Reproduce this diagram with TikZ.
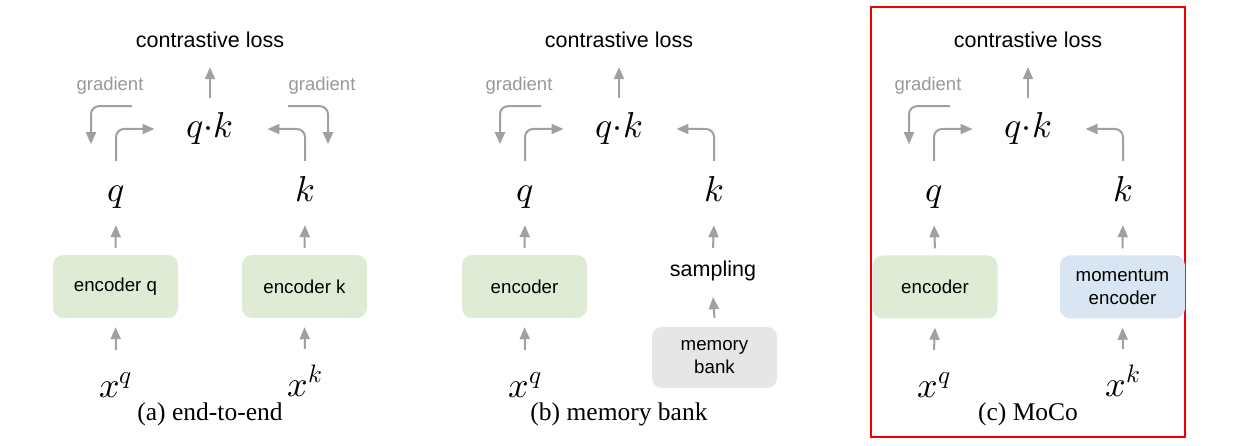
\documentclass[tikz,border=0pt]{standalone}
\usepackage{fontspec}
\usepackage{unicode-math}
\setmainfont{Liberation Serif}
\setsansfont{Liberation Sans}
\setmathfont{Latin Modern Math}
\usetikzlibrary{arrows.meta}
\definecolor{arrgray}{HTML}{A0A0A0}
\definecolor{gradgray}{HTML}{999999}
\definecolor{encgreen}{HTML}{E0EBD6}
\definecolor{encblue}{HTML}{D9E5F2}
\definecolor{memgray}{HTML}{E6E6E6}
\definecolor{mocored}{HTML}{F00000}
\tikzset{
  arr/.style={draw=arrgray, line width=2pt, rounded corners=8pt,
    -{Triangle[length=12pt,width=10pt]}},
  losslbl/.style={font=\sffamily\fontsize{21.5}{24}\selectfont, anchor=base,
    inner sep=0pt, text height=15.6pt, text depth=5pt},
  gradlbl/.style={font=\sffamily\fontsize{18.5}{22}\selectfont, text=gradgray,
    anchor=base, inner sep=0pt, text height=13pt, text depth=4pt},
  mathlbl/.style={font=\fontsize{36}{40}\selectfont, anchor=base,
    inner sep=0pt, text height=25pt, text depth=7pt},
  boxbase/.style={rounded corners=10pt, minimum width=125pt, minimum height=63pt,
    inner sep=0pt, align=center, font=\sffamily\fontsize{18.7}{23}\selectfont},
  encbox/.style={boxbase, fill=encgreen},
  mombox/.style={boxbase, fill=encblue},
  membox/.style={boxbase, fill=memgray, minimum height=61pt},
  caplbl/.style={font=\fontsize{25.5}{28}\selectfont, anchor=base, inner sep=0pt},
}
\begin{document}
\begin{tikzpicture}[x=1pt,y=-1pt]
\useasboundingbox (0,0) rectangle (1256,446);
\fill[white] (0,0) rectangle (1256,446);

% ---------- (a) end-to-end ----------
\node[losslbl] (lossA) at (210,48) {contrastive loss};
\node[mathlbl] (qkA) at (210,138) {$q{\cdot}k$};
\node[mathlbl] (qA) at (116,202) {$q$};
\node[mathlbl] (kA) at (305,202) {$k$};
\node[encbox] (encqA) at (115.5,286.5) {encoder q};
\node[encbox] (enckA) at (304.5,286.5) {encoder k};
\node[mathlbl] (xqA) at (116,397) {$x^q$};
\node[mathlbl] (xkA) at (305,396) {$x^k$};
\node[caplbl] (capA) at (210,420) {(a) end-to-end};
\node[gradlbl] (glA) at (110,91) {gradient};
\node[gradlbl] (grA) at (322,91) {gradient};

\draw[arr] ([yshift=15pt]qkA.north) -- ([yshift=-14pt]lossA.south);
\draw[arr] ([yshift=16pt]qA.north) |- ([xshift=-32pt]qkA.west);
\draw[arr] ([yshift=16pt]kA.north) |- ([xshift=34pt]qkA.east);
\draw[arr] ([xshift=22pt,yshift=-11pt]glA.south) -| ([xshift=-19pt,yshift=-49pt]glA.south);
\draw[arr] ([xshift=-34pt,yshift=-11pt]grA.south) -| ([xshift=6pt,yshift=-49pt]grA.south);
\draw[arr] ([yshift=7pt]encqA.north) -- ([yshift=-16pt]qA.south);
\draw[arr] ([yshift=7pt]enckA.north) -- ([yshift=-16pt]kA.south);
\draw[arr] ([yshift=22pt]xqA.north) -- ([yshift=-9pt]encqA.south);
\draw[arr] ([yshift=22pt]xkA.north) -- ([yshift=-9pt]enckA.south);

% ---------- (b) memory bank ----------
\node[losslbl] (lossB) at (619,48) {contrastive loss};
\node[mathlbl] (qkB) at (619,138) {$q{\cdot}k$};
\node[mathlbl] (qB) at (525,202) {$q$};
\node[mathlbl] (kB) at (714,202) {$k$};
\node[encbox] (encB) at (524.5,286.5) {encoder};
\node[losslbl] (sampB) at (713,277) {sampling};
\node[membox] (memB) at (714.5,357.5) {memory\\bank};
\node[mathlbl] (xqB) at (525,397) {$x^q$};
\node[caplbl] (capB) at (619,420) {(b) memory bank};
\node[gradlbl] (glB) at (519,91) {gradient};

\draw[arr] ([yshift=15pt]qkB.north) -- ([yshift=-14pt]lossB.south);
\draw[arr] ([yshift=16pt]qB.north) |- ([xshift=-32pt]qkB.west);
\draw[arr] ([yshift=16pt]kB.north) |- ([xshift=34pt]qkB.east);
\draw[arr] ([xshift=22pt,yshift=-11pt]glB.south) -| ([xshift=-19pt,yshift=-49pt]glB.south);
\draw[arr] ([yshift=7pt]encB.north) -- ([yshift=-16pt]qB.south);
\draw[arr] ([yshift=13.4pt]sampB.north) -- ([yshift=-16pt]kB.south);
\draw[arr] ([yshift=22pt]xqB.north) -- ([yshift=-9pt]encB.south);
\draw[arr] ([yshift=9pt]memB.north) -- ([yshift=-15pt]sampB.south);

% ---------- (c) MoCo ----------
\draw[mocored, line width=2.5pt] (871,7) rectangle (1185,437);
\node[losslbl] (lossC) at (1028,48) {contrastive loss};
\node[mathlbl] (qkC) at (1028,138) {$q{\cdot}k$};
\node[mathlbl] (qC) at (934,202) {$q$};
\node[mathlbl] (kC) at (1123,202) {$k$};
\node[encbox] (encC) at (935,287) {encoder};
\node[mombox] (momC) at (1122.5,287) {momentum\\encoder};
\node[mathlbl] (xqC) at (934,397) {$x^q$};
\node[mathlbl] (xkC) at (1123,396) {$x^k$};
\node[caplbl] (capC) at (1028,420) {(c) MoCo};
\node[gradlbl] (glC) at (928,91) {gradient};

\draw[arr] ([yshift=15pt]qkC.north) -- ([yshift=-14pt]lossC.south);
\draw[arr] ([yshift=16pt]qC.north) |- ([xshift=-32pt]qkC.west);
\draw[arr] ([yshift=16pt]kC.north) |- ([xshift=34pt]qkC.east);
\draw[arr] ([xshift=22pt,yshift=-11pt]glC.south) -| ([xshift=-19pt,yshift=-49pt]glC.south);
\draw[arr] ([yshift=7pt]encC.north) -- ([yshift=-16pt]qC.south);
\draw[arr] ([yshift=7pt]momC.north) -- ([yshift=-16pt]kC.south);
\draw[arr] ([yshift=22pt]xqC.north) -- ([yshift=-9pt]encC.south);
\draw[arr] ([yshift=22pt]xkC.north) -- ([yshift=-9pt]momC.south);
\end{tikzpicture}
\end{document}
